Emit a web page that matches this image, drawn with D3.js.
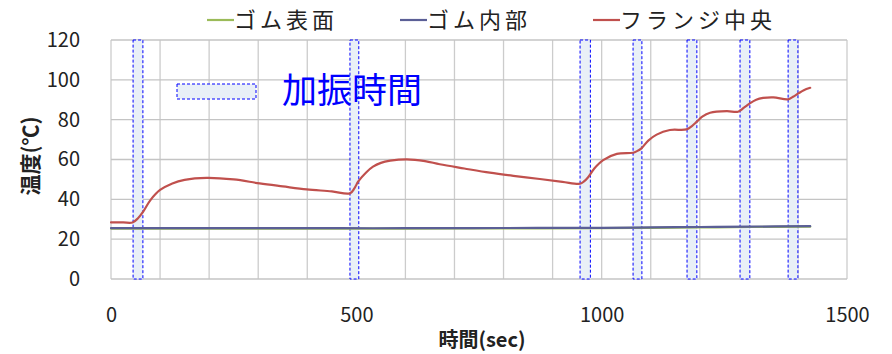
<!DOCTYPE html>
<html>
<head>
<meta charset="utf-8">
<script src="https://cdn.jsdelivr.net/npm/d3@7"></script>
<style>
  body { margin: 0; background: #fff; }
  text { font-family: "Noto Sans CJK JP", "Open Sans", sans-serif; }
</style>
</head>
<body>
<div id="chart"></div>
<script>
// time (sec) and temperature (°C)
var flangeTime = [0, 25, 44, 55, 66, 80, 100, 125, 150, 195, 250, 303, 350, 399, 450, 487, 496, 504, 520, 534, 550, 569, 603, 640, 670, 720, 772, 820, 874, 920, 956, 964, 972, 985, 1003, 1031, 1064, 1072, 1081, 1095, 1112, 1139, 1173, 1184, 1194, 1205, 1221, 1255, 1278, 1290, 1302, 1315, 1329, 1350, 1380, 1390, 1401, 1412, 1425];
var flangeTemp = [28.4, 28.4, 28.4, 30.5, 34, 39.5, 44.7, 48, 49.8, 50.8, 50, 48, 46.5, 45, 44, 43, 45.5, 49, 53.5, 56.4, 58.3, 59.4, 60.1, 59.2, 57.6, 55.5, 53.4, 51.8, 50.2, 48.8, 47.8, 49, 51, 55.5, 59.7, 62.8, 63.4, 64.2, 65.6, 69.5, 72.5, 74.8, 75.1, 76.8, 79, 81.5, 83.5, 84.3, 84, 86, 88.2, 90, 90.9, 91.2, 90.2, 91.5, 93.2, 94.8, 96];
var rubberTime = [0, 200, 400, 600, 800, 1000, 1100, 1200, 1300, 1425];
var surfaceTemp = [25.3, 25.3, 25.3, 25.3, 25.4, 25.5, 25.7, 25.9, 26.1, 26.3];
var insideTemp = [25.5, 25.5, 25.5, 25.5, 25.6, 25.7, 25.9, 26.1, 26.3, 26.5];

// vibration periods (start, end sec)
var shakeStart = [45, 487, 956, 1064, 1174, 1282, 1380];
var shakeEnd = [65, 505, 977, 1082, 1194, 1302, 1400];

var seriesNames = ["ゴム表面", "ゴム内部", "フランジ中央"];
var seriesColors = ["#9bbb59", "#5b5f96", "#c0504d"];
var xTicks = [0, 500, 1000, 1500];
var yTicks = [0, 20, 40, 60, 80, 100, 120];

var W = 892, H = 354;
var margin = {left: 111, right: 45, top: 40, bottom: 75};

var svg = d3.select("#chart").append("svg")
  .attr("width", W)
  .attr("height", H);

var x = d3.scaleLinear().domain([0, 1500]).range([margin.left, W - margin.right]);
var y = d3.scaleLinear().domain([0, 120]).range([H - margin.bottom, margin.top]);

// grid
var g = svg.append("g");
g.selectAll(".vgrid")
  .data(d3.range(0, 1501, 100))
  .enter().append("line")
    .attr("x1", function(d) { return x(d); })
    .attr("x2", function(d) { return x(d); })
    .attr("y1", y(0))
    .attr("y2", y(120))
    .attr("stroke", "#cccccc")
    .attr("stroke-width", 1.3);
g.selectAll(".hgrid")
  .data(yTicks)
  .enter().append("line")
    .attr("x1", x(0))
    .attr("x2", x(1500))
    .attr("y1", function(d) { return y(d); })
    .attr("y2", function(d) { return y(d); })
    .attr("stroke", "#c4c4c4")
    .attr("stroke-width", 1.3);

// axes labels
svg.append("g")
  .attr("transform", "translate(" + (x(0) - 28) + ",0)")
  .call(d3.axisLeft(y).tickValues(yTicks).tickSize(0))
  .call(function(a) { a.select(".domain").remove(); })
  .selectAll("text")
    .attr("font-size", 20)
    .attr("font-family", "Open Sans")
    .attr("fill", "#222");

svg.append("g")
  .attr("transform", "translate(0," + (y(0) + 26) + ")")
  .call(d3.axisBottom(x).tickValues(xTicks).tickSize(0).tickFormat(d3.format("d")))
  .call(function(a) { a.select(".domain").remove(); })
  .selectAll("text")
    .attr("font-size", 20)
    .attr("font-family", "Open Sans")
    .attr("fill", "#222");

svg.append("text")
  .attr("x", 482)
  .attr("y", 347)
  .attr("text-anchor", "middle")
  .attr("font-size", 20)
  .attr("font-weight", "bold")
  .attr("fill", "#222")
  .text("時間(sec)");

svg.append("text")
  .attr("transform", "translate(38,156) rotate(-90)")
  .attr("text-anchor", "middle")
  .attr("font-size", 21)
  .attr("font-weight", "bold")
  .attr("fill", "#222")
  .text("温度(℃)");

// vibration bands
var bands = shakeStart.map(function(s, i) { return {s: s, e: shakeEnd[i]}; });
svg.selectAll(".band")
  .data(bands)
  .enter().append("rect")
    .attr("x", function(d) { return x(d.s); })
    .attr("width", function(d) { return x(d.e) - x(d.s); })
    .attr("y", y(120))
    .attr("height", y(0) - y(120))
    .attr("fill", "#e9f0f7")
    .attr("stroke", "#0000ff")
    .attr("stroke-width", 1)
    .attr("stroke-dasharray", "3,2");

// lines
var line = d3.line()
  .x(function(d) { return x(d[0]); })
  .y(function(d) { return y(d[1]); })
  .curve(d3.curveCatmullRom.alpha(0.5));

var series = [
  d3.zip(rubberTime, surfaceTemp),
  d3.zip(rubberTime, insideTemp),
  d3.zip(flangeTime, flangeTemp)
];

svg.selectAll(".series")
  .data(series)
  .enter().append("path")
    .attr("d", line)
    .attr("fill", "none")
    .attr("stroke", function(d, i) { return seriesColors[i]; })
    .attr("stroke-width", 2.2)
    .attr("stroke-linecap", "round");

// legend
var legendX = [207, 400, 593];
var leg = svg.selectAll(".leg")
  .data(seriesNames)
  .enter().append("g")
    .attr("transform", function(d, i) { return "translate(" + legendX[i] + ",20)"; });
leg.append("line")
  .attr("x1", 0).attr("x2", 27)
  .attr("stroke", function(d, i) { return seriesColors[i]; })
  .attr("stroke-width", 2.2);
leg.append("text")
  .attr("x", 27)
  .attr("dy", "0.36em")
  .attr("font-size", 22)
  .attr("letter-spacing", 4)
  .attr("fill", "#222")
  .text(function(d) { return d; });

// vibration legend
svg.append("rect")
  .attr("x", 177).attr("y", 84)
  .attr("width", 79).attr("height", 15)
  .attr("fill", "#e9f0f7")
  .attr("stroke", "#0000ff")
  .attr("stroke-width", 1)
  .attr("stroke-dasharray", "3,2");
svg.append("text")
  .attr("x", 282)
  .attr("y", 103)
  .attr("font-size", 35)
  .attr("fill", "#0000ff")
  .text("加振時間");
</script>
</body>
</html>
